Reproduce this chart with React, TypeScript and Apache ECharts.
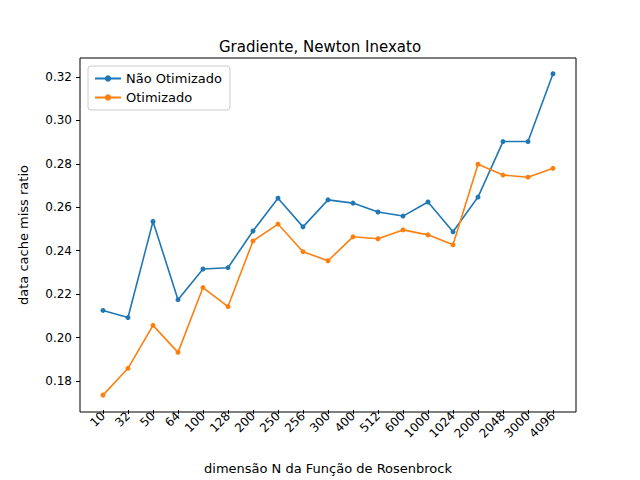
import React, { useEffect, useRef } from "react";
import * as echarts from "echarts";

const categories = ["10","32","50","64","100","128","200","250","256","300","400","512","600","1000","1024","2000","2048","3000","4096"];
const naoOtimizado = [0.2118,0.2085,0.253,0.2168,0.231,0.2316,0.2486,0.2638,0.2505,0.263,0.2615,0.2574,0.2555,0.262,0.2482,0.2643,0.290,0.290,0.3214];
const otimizado = [0.1726,0.185,0.2049,0.1924,0.2224,0.2136,0.244,0.2518,0.239,0.2348,0.2459,0.245,0.2491,0.2468,0.2422,0.2795,0.2745,0.2735,0.2776];
const yTicks = [0.18,0.2,0.22,0.24,0.26,0.28,0.3,0.32];

const YMIN = 0.1657, YMAX = 0.3287;
const font = "DejaVu Sans";

export default function App() {
  const ref = useRef<HTMLDivElement>(null);
  useEffect(() => {
    const chart = echarts.init(ref.current!, null, { renderer: "svg" });
    chart.setOption({
      animation: false,
      textStyle: { fontFamily: font },
      title: { text: "Gradiente, Newton Inexato", left: "center", top: 34, textStyle: { fontFamily: font, fontSize: 15, fontWeight: "normal", color: "#000" } },
      legend: {
        orient: "vertical", left: 88, top: 66, padding: [6, 8, 6, 6], itemGap: 6,
        borderColor: "#ccc", borderWidth: 1, borderRadius: 3, backgroundColor: "#fff",
        itemWidth: 26, itemHeight: 8,
        textStyle: { fontFamily: font, fontSize: 13, color: "#000" },
        data: ["Não Otimizado", "Otimizado"],
      },
      grid: [
        { left: 80, right: 64, top: 58, bottom: 68, show: true, borderColor: "#000", borderWidth: 1, backgroundColor: "transparent" },
        { left: 103, right: 87, top: 58, bottom: 68 },
      ],
      xAxis: [
        { type: "value", gridIndex: 0, min: 0, max: 1, show: false },
        {
          type: "category", gridIndex: 1, data: categories, boundaryGap: false,
          axisLine: { show: false },
          axisTick: { show: true, inside: false, length: 4, alignWithLabel: true, lineStyle: { color: "#000" } },
          axisLabel: { rotate: 45, fontSize: 12, color: "#000", fontFamily: font, interval: 0, margin: 4 },
          splitLine: { show: false },
          name: "dimensão N da Função de Rosenbrock", nameLocation: "middle", nameGap: 52,
          nameTextStyle: { fontSize: 13, color: "#000", fontFamily: font },
        },
      ],
      yAxis: [
        {
          type: "value", gridIndex: 0, min: YMIN, max: YMAX,
          axisLine: { show: false },
          axisTick: { show: true, length: 4, lineStyle: { color: "#000" }, customValues: yTicks },
          axisLabel: { fontSize: 12, color: "#000", fontFamily: font, customValues: yTicks, formatter: (v: number) => v.toFixed(2) },
          splitLine: { show: false },
          name: "data cache miss ratio", nameLocation: "middle", nameGap: 50,
          nameTextStyle: { fontSize: 13, color: "#000", fontFamily: font },
        },
        { type: "value", gridIndex: 1, min: YMIN, max: YMAX, show: false },
      ],
      series: [
        { name: "Não Otimizado", type: "line", xAxisIndex: 1, yAxisIndex: 1, data: naoOtimizado, color: "#1f77b4", symbol: "circle", symbolSize: 5, lineStyle: { width: 1.6 } },
        { name: "Otimizado", type: "line", xAxisIndex: 1, yAxisIndex: 1, data: otimizado, color: "#ff7f0e", symbol: "circle", symbolSize: 5, lineStyle: { width: 1.6 } },
      ],
    });
    return () => chart.dispose();
  }, []);
  return <div ref={ref} style={{ position: "absolute", left: 0, top: 0, width: 640, height: 480 }} />;
}
